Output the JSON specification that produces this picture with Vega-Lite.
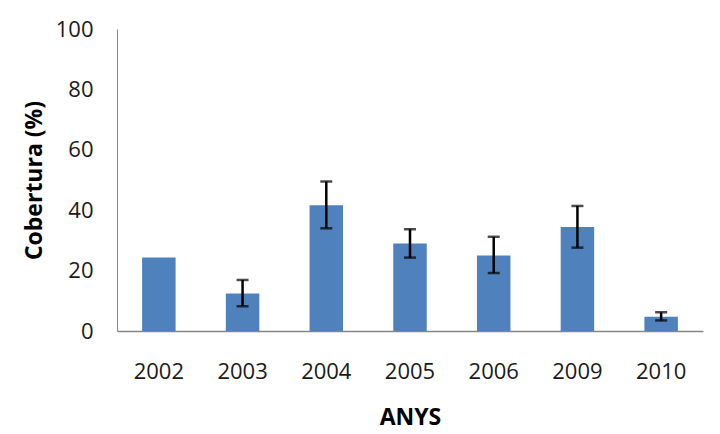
{
  "$schema": "https://vega.github.io/schema/vega-lite/v6.json",
  "autosize": "none",
  "width": 586,
  "height": 302,
  "padding": {"left": 117, "top": 29, "right": 17, "bottom": 103},
  "background": "white",
  "config": {
    "view": {"stroke": null},
    "font": "Open Sans"
  },
  "data": {
    "values": [
      {"any": "2002", "cobertura": 24.3, "lo": null, "hi": null},
      {"any": "2003", "cobertura": 12.4, "lo": 8.2, "hi": 16.9},
      {"any": "2004", "cobertura": 41.6, "lo": 34.0, "hi": 49.5},
      {"any": "2005", "cobertura": 29.0, "lo": 24.3, "hi": 33.7},
      {"any": "2006", "cobertura": 25.0, "lo": 19.2, "hi": 31.2},
      {"any": "2009", "cobertura": 34.4, "lo": 27.6, "hi": 41.4},
      {"any": "2010", "cobertura": 4.7, "lo": 3.5, "hi": 6.2}
    ]
  },
  "encoding": {
    "x": {
      "field": "any",
      "type": "nominal",
      "sort": null,
      "scale": {"paddingInner": 0.6, "paddingOuter": 0.3},
      "axis": {
        "title": "ANYS",
        "titleFontSize": 23,
        "titleFontWeight": "bold",
        "titleColor": "#000000",
        "titlePadding": 24,
        "labelAngle": 0,
        "labelFontSize": 22,
        "labelColor": "#1a1a1a",
        "labelPadding": 30,
        "ticks": false,
        "domainColor": "#868686",
        "domainWidth": 1.5
      }
    }
  },
  "layer": [
    {
      "mark": {"type": "bar", "color": "#4F81BD"},
      "encoding": {
        "y": {
          "field": "cobertura",
          "type": "quantitative",
          "scale": {"domain": [0, 100]},
          "axis": {
            "title": "Cobertura (%)",
            "titleFontSize": 23,
            "titleFontWeight": "bold",
            "titleColor": "#000000",
            "titlePadding": 9,
            "values": [0, 20, 40, 60, 80, 100],
            "labelFontSize": 22,
            "labelColor": "#1a1a1a",
            "labelPadding": 24,
            "ticks": false,
            "grid": false,
            "domainColor": "#868686",
            "domainWidth": 1
          }
        }
      }
    },
    {
      "transform": [{"filter": "datum.lo != null"}],
      "mark": {"type": "rule", "color": "#000000", "strokeWidth": 2.5},
      "encoding": {
        "y": {"field": "lo", "type": "quantitative"},
        "y2": {"field": "hi"}
      }
    },
    {
      "transform": [{"filter": "datum.lo != null"}],
      "mark": {"type": "tick", "color": "#000000", "thickness": 2.5, "size": 12},
      "encoding": {
        "y": {"field": "lo", "type": "quantitative"}
      }
    },
    {
      "transform": [{"filter": "datum.lo != null"}],
      "mark": {"type": "tick", "color": "#000000", "thickness": 2.5, "size": 12},
      "encoding": {
        "y": {"field": "hi", "type": "quantitative"}
      }
    }
  ]
}
